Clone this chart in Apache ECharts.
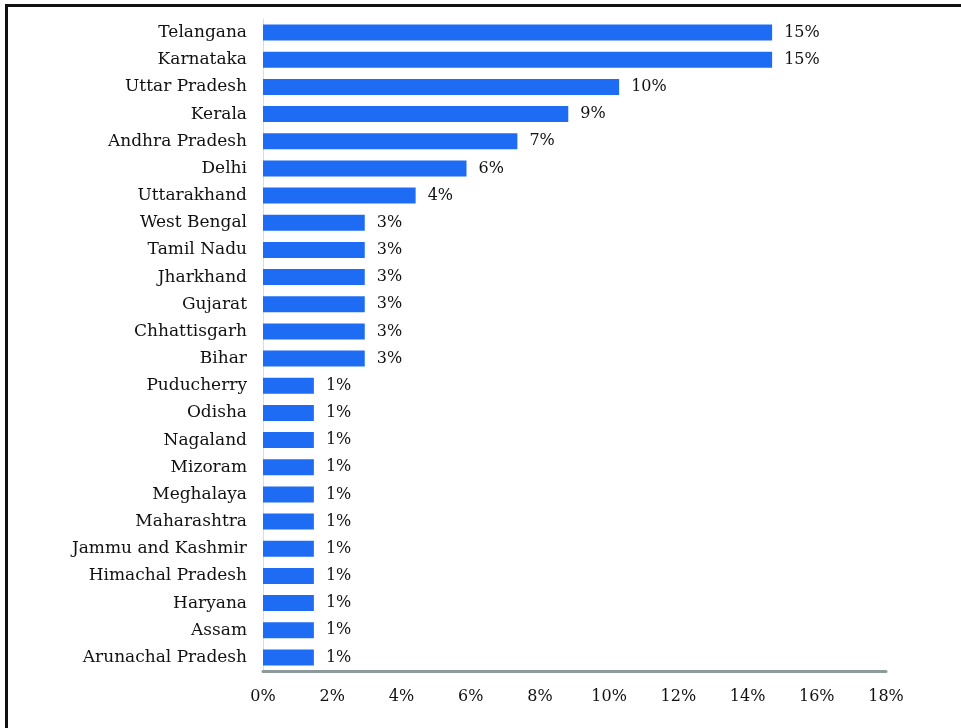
<!DOCTYPE html>
<html>
<head>
<meta charset="utf-8">
<style>
    html, body { margin: 0; padding: 0; background: #fff; }
    .frame { position: absolute; left: 5px; top: 4px; width: 956px; height: 724px; border-left: 3px solid #111; border-top: 3px solid #111; box-sizing: border-box; }
    .chart { position: absolute; left: 0; top: 0; width: 961px; height: 728px; }
</style>
<script src="https://cdn.jsdelivr.net/npm/echarts@6/dist/echarts.min.js"></script>
</head>
<body>
<div class="frame"></div>
<div class="chart"></div>
<script>
// 州名 (bottom to top, as the category axis draws them)
const states = ['Arunachal Pradesh', 'Assam', 'Haryana', 'Himachal Pradesh', 'Jammu and Kashmir',
    'Maharashtra', 'Meghalaya', 'Mizoram', 'Nagaland', 'Odisha', 'Puducherry',
    'Bihar', 'Chhattisgarh', 'Gujarat', 'Jharkhand', 'Tamil Nadu', 'West Bengal',
    'Uttarakhand', 'Delhi', 'Andhra Pradesh', 'Kerala', 'Uttar Pradesh', 'Karnataka', 'Telangana']
// bar lengths (%)
const shares = [1.47, 1.47, 1.47, 1.47, 1.47, 1.47, 1.47, 1.47, 1.47, 1.47, 1.47,
    2.94, 2.94, 2.94, 2.94, 2.94, 2.94,
    4.41, 5.88, 7.35, 8.82, 10.29, 14.71, 14.71]
// printed labels
const shareLabels = ['1%', '1%', '1%', '1%', '1%', '1%', '1%', '1%', '1%', '1%', '1%',
    '3%', '3%', '3%', '3%', '3%', '3%',
    '4%', '6%', '7%', '9%', '10%', '15%', '15%']
const xTicks = { min: 0, max: 18, interval: 2 }

function stateChart() {
    const el = document.querySelector('.chart')
    const myChart = echarts.init(el)
    const serif = 'DejaVu Serif'
    const option = {
        animation: false,
        grid: {
            left: 263,
            right: 75,
            top: 19,
            bottom: 57,
            containLabel: false
        },
        xAxis: {
            type: 'value',
            min: xTicks.min,
            max: xTicks.max,
            interval: xTicks.interval,
            axisLine: {
                show: true,
                lineStyle: { color: '#8e9a9a', width: 3 }
            },
            axisTick: { show: false },
            splitLine: { show: false },
            axisLabel: {
                margin: 18,
                color: '#111',
                fontFamily: serif,
                fontSize: 16,
                formatter: '{value}%'
            }
        },
        yAxis: {
            type: 'category',
            data: states,
            axisLine: {
                show: true,
                lineStyle: { color: '#d8dde0', width: 1 }
            },
            axisTick: { show: false },
            axisLabel: {
                margin: 16,
                color: '#111',
                fontFamily: serif,
                fontSize: 17
            }
        },
        series: [
            {
                type: 'bar',
                data: shares,
                barWidth: 16,
                itemStyle: { color: '#1e6cf4' },
                label: {
                    show: true,
                    position: 'right',
                    distance: 12,
                    color: '#111',
                    fontFamily: serif,
                    fontSize: 16,
                    formatter: p => shareLabels[p.dataIndex]
                }
            }
        ]
    }
    myChart.setOption(option)
}
stateChart()
</script>
</body>
</html>
